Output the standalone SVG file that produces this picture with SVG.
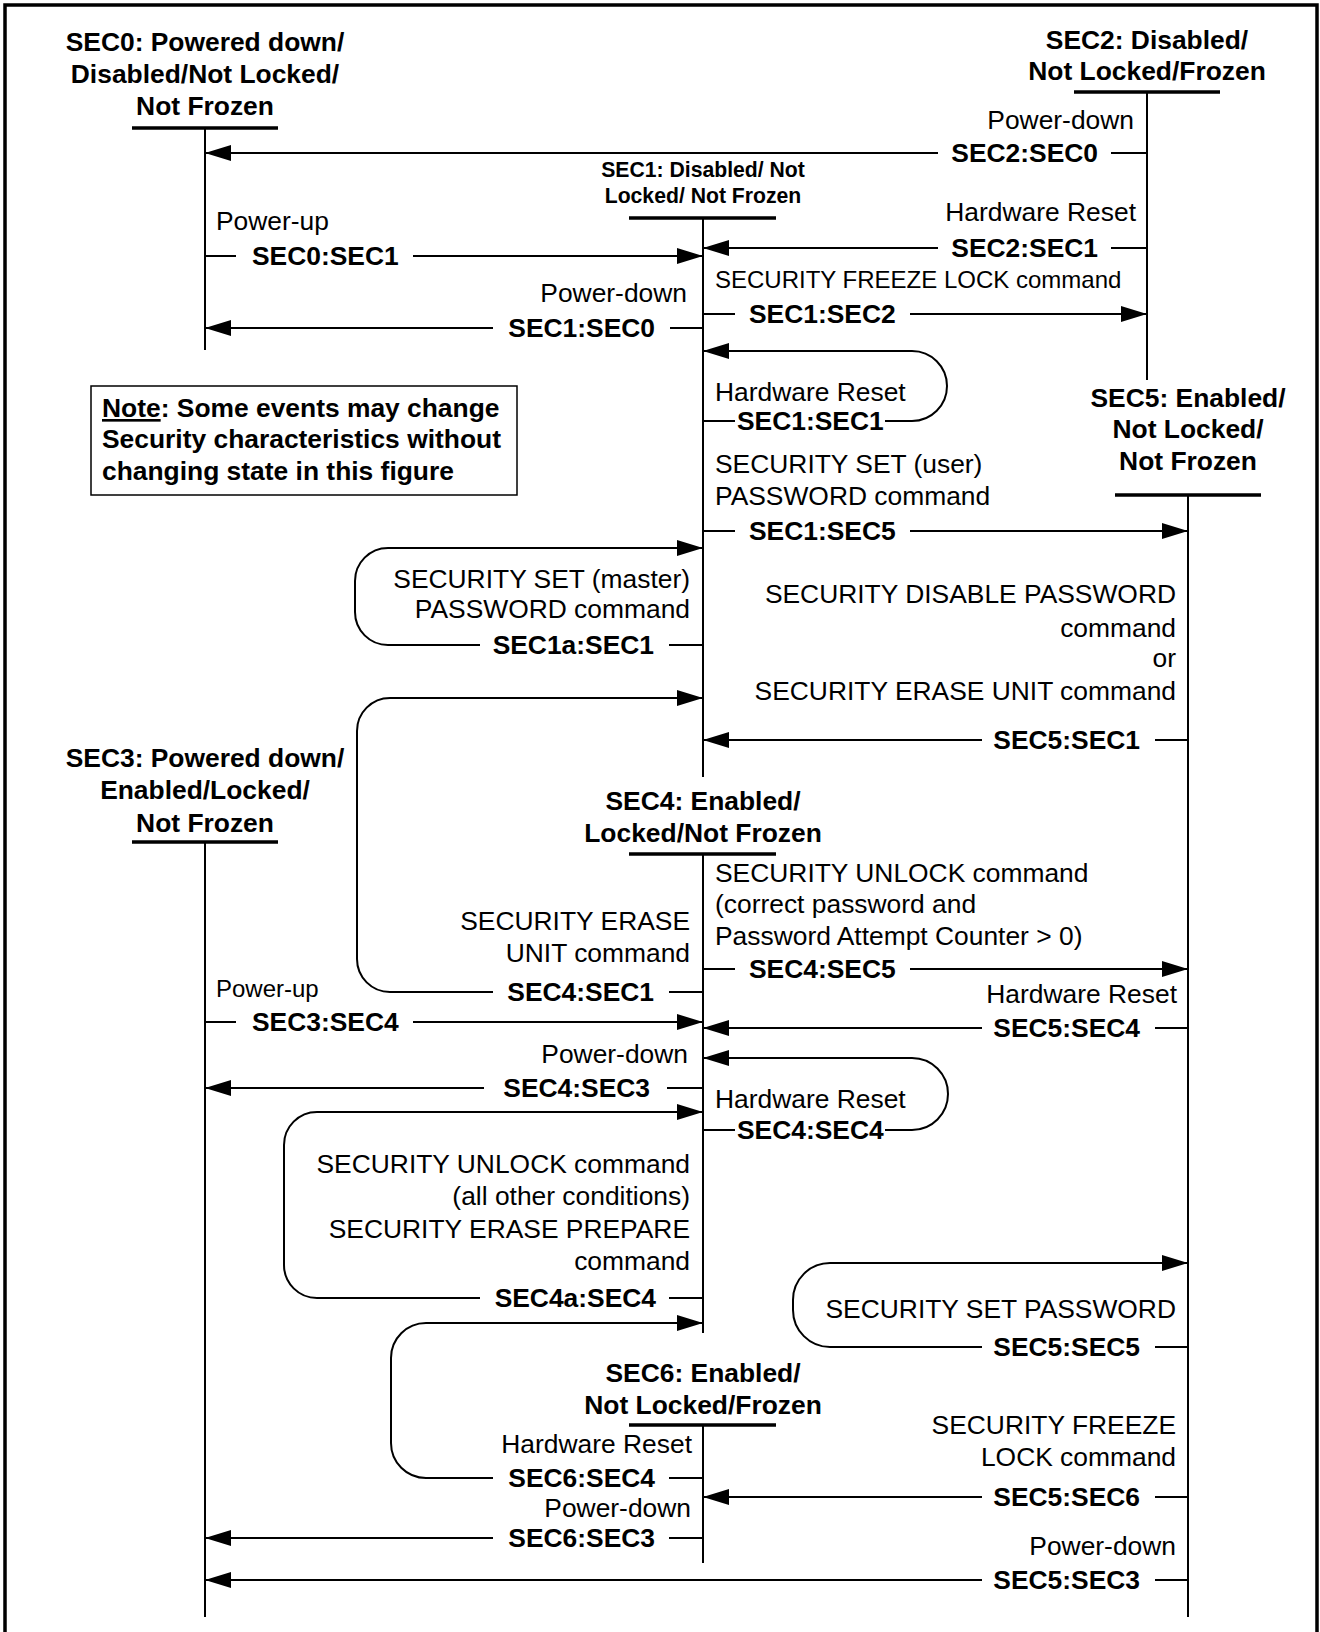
<svg xmlns="http://www.w3.org/2000/svg" width="1320" height="1632" viewBox="0 0 1320 1632">
<style>
text{font-family:"Liberation Sans",Arial,Helvetica,sans-serif;fill:#000}
.t{font-size:26.4px}
.ts{font-size:24px}
.b{font-size:26.4px;font-weight:bold}
.bs{font-size:21.2px;font-weight:bold}
.m{text-anchor:middle}
.e{text-anchor:end}
.life{stroke:#000;stroke-width:2;fill:none}
.bar{stroke:#000;stroke-width:3.5;fill:none}
.c{stroke:#000;stroke-width:2;fill:none}
.a{marker-end:url(#arr)}
</style>
<defs>
<marker id="arr" markerUnits="userSpaceOnUse" markerWidth="26" markerHeight="16" viewBox="0 0 26 16" refX="26" refY="8" orient="auto">
<path d="M0,0 L26,8 L0,16 Z" fill="#000"/>
</marker>
</defs>
<rect width="1320" height="1632" fill="#fff"/>
<path d="M5 1632 V5 H1317 V1632" fill="none" stroke="#000" stroke-width="3.5"/>

<g id="SEC0">
<text class="b m" x="205" y="51">SEC0: Powered down/</text>
<text class="b m" x="205" y="83">Disabled/Not Locked/</text>
<text class="b m" x="205" y="115">Not Frozen</text>
<line class="bar" x1="132" y1="128" x2="278" y2="128"/>
<line class="life" x1="205" y1="128" x2="205" y2="350"/>
</g>
<g id="SEC2">
<text class="b m" x="1147" y="49">SEC2: Disabled/</text>
<text class="b m" x="1147" y="80">Not Locked/Frozen</text>
<line class="bar" x1="1074" y1="92" x2="1220" y2="92"/>
<line class="life" x1="1147" y1="92" x2="1147" y2="380"/>
</g>
<g id="SEC1">
<text class="bs m" x="703" y="177">SEC1: Disabled/ Not</text>
<text class="bs m" x="703" y="203">Locked/ Not Frozen</text>
<line class="bar" x1="629" y1="218" x2="776" y2="218"/>
<line class="life" x1="703" y1="218" x2="703" y2="777"/>
</g>
<g id="SEC5">
<text class="b m" x="1188" y="407">SEC5: Enabled/</text>
<text class="b m" x="1188" y="438">Not Locked/</text>
<text class="b m" x="1188" y="470">Not Frozen</text>
<line class="bar" x1="1115" y1="495" x2="1261" y2="495"/>
<line class="life" x1="1188" y1="495" x2="1188" y2="1617"/>
</g>
<g id="SEC3">
<text class="b m" x="205" y="767">SEC3: Powered down/</text>
<text class="b m" x="205" y="799">Enabled/Locked/</text>
<text class="b m" x="205" y="832">Not Frozen</text>
<line class="bar" x1="132" y1="842" x2="278" y2="842"/>
<line class="life" x1="205" y1="842" x2="205" y2="1617"/>
</g>
<g id="SEC4">
<text class="b m" x="703" y="810">SEC4: Enabled/</text>
<text class="b m" x="703" y="842">Locked/Not Frozen</text>
<line class="bar" x1="629" y1="854" x2="776" y2="854"/>
<line class="life" x1="703" y1="854" x2="703" y2="1333"/>
</g>
<g id="SEC6">
<text class="b m" x="703" y="1382">SEC6: Enabled/</text>
<text class="b m" x="703" y="1414">Not Locked/Frozen</text>
<line class="bar" x1="629" y1="1425" x2="776" y2="1425"/>
<line class="life" x1="703" y1="1425" x2="703" y2="1563"/>
</g>
<g id="note">
<rect x="91" y="386" width="426" height="109" fill="none" stroke="#000" stroke-width="1.5"/>
<text class="b" x="102" y="417"><tspan text-decoration="underline">Note</tspan>: Some events may change</text>
<text class="b" x="102" y="448">Security characteristics without</text>
<text class="b" x="102" y="480">changing state in this figure</text>
</g>

<g id="connectors">
<g id="c-SEC2-SEC0">
<path class="c" d="M1147 153 H1111"/><path class="c a" d="M938 153 H205"/>
<text class="b e" x="1098" y="162">SEC2:SEC0</text>
<text class="t e" x="1134" y="129">Power-down</text>
</g>
<g id="c-SEC0-SEC1">
<path class="c" d="M205 256 H236"/><path class="c a" d="M413 256 H703"/>
<text class="b" x="252" y="265">SEC0:SEC1</text>
<text class="t" x="216" y="230">Power-up</text>
</g>
<g id="c-SEC2-SEC1">
<path class="c" d="M1147 248 H1111"/><path class="c a" d="M938 248 H703"/>
<text class="b e" x="1098" y="257">SEC2:SEC1</text>
<text class="t e" x="1136" y="221">Hardware Reset</text>
</g>
<g id="c-SEC1-SEC2">
<path class="c" d="M703 314 H735"/><path class="c a" d="M910 314 H1147"/>
<text class="b" x="749" y="323">SEC1:SEC2</text>
<text class="ts" x="715" y="288">SECURITY FREEZE LOCK command</text>
</g>
<g id="c-SEC1-SEC0">
<path class="c" d="M703 328 H670"/><path class="c a" d="M493 328 H205"/>
<text class="b e" x="655" y="337">SEC1:SEC0</text>
<text class="t e" x="687" y="302">Power-down</text>
</g>
<g id="c-SEC1-SEC1">
<path class="c" d="M703 421 H735"/><path class="c a" d="M885 421 H912 A35 35 0 0 0 912 351 H703"/>
<text class="b" x="737" y="430">SEC1:SEC1</text>
<text class="t" x="715" y="401">Hardware Reset</text>
</g>
<g id="c-SEC1-SEC5">
<path class="c" d="M703 531 H735"/><path class="c a" d="M910 531 H1188"/>
<text class="b" x="749" y="540">SEC1:SEC5</text>
<text class="t" x="715" y="473">SECURITY SET (user)</text>
<text class="t" x="715" y="505">PASSWORD command</text>
</g>
<g id="c-SEC1a-SEC1">
<path class="c" d="M703 645 H669"/><path class="c a" d="M480 645 H388 A33 33 0 0 1 355 612 V581 A33 33 0 0 1 388 548 H703"/>
<text class="b e" x="654" y="654">SEC1a:SEC1</text>
<text class="t e" x="690" y="588">SECURITY SET (master)</text>
<text class="t e" x="690" y="618">PASSWORD command</text>
</g>
<g id="c-SEC5-SEC1">
<path class="c" d="M1188 740 H1155"/><path class="c a" d="M982 740 H703"/>
<text class="b e" x="1140" y="749">SEC5:SEC1</text>
<text class="t e" x="1176" y="603">SECURITY DISABLE PASSWORD</text>
<text class="t e" x="1176" y="637">command</text>
<text class="t e" x="1176" y="667">or</text>
<text class="t e" x="1176" y="700">SECURITY ERASE UNIT command</text>
</g>
<g id="c-SEC4-SEC1">
<path class="c" d="M703 992 H669"/><path class="c a" d="M493 992 H390 A33 33 0 0 1 357 959 V731 A33 33 0 0 1 390 698 H703"/>
<text class="b e" x="654" y="1001">SEC4:SEC1</text>
<text class="t e" x="690" y="930">SECURITY ERASE</text>
<text class="t e" x="690" y="962">UNIT command</text>
</g>
<g id="c-SEC4-SEC5">
<path class="c" d="M703 969 H735"/><path class="c a" d="M910 969 H1188"/>
<text class="b" x="749" y="978">SEC4:SEC5</text>
<text class="t" x="715" y="882">SECURITY UNLOCK command</text>
<text class="t" x="715" y="913">(correct password and</text>
<text class="t" x="715" y="945">Password Attempt Counter &gt; 0)</text>
</g>
<g id="c-SEC3-SEC4">
<path class="c" d="M205 1022 H236"/><path class="c a" d="M413 1022 H703"/>
<text class="b" x="252" y="1031">SEC3:SEC4</text>
<text class="ts" x="216" y="997">Power-up</text>
</g>
<g id="c-SEC5-SEC4">
<path class="c" d="M1188 1028 H1155"/><path class="c a" d="M982 1028 H703"/>
<text class="b e" x="1140" y="1037">SEC5:SEC4</text>
<text class="t e" x="1177" y="1003">Hardware Reset</text>
</g>
<g id="c-SEC4-SEC3">
<path class="c" d="M703 1088 H667"/><path class="c a" d="M484 1088 H205"/>
<text class="b e" x="650" y="1097">SEC4:SEC3</text>
<text class="t e" x="688" y="1063">Power-down</text>
</g>
<g id="c-SEC4-SEC4">
<path class="c" d="M703 1130 H735"/><path class="c a" d="M885 1130 H912 A36 36 0 0 0 912 1058 H703"/>
<text class="b" x="737" y="1139">SEC4:SEC4</text>
<text class="t" x="715" y="1108">Hardware Reset</text>
</g>
<g id="c-SEC4a-SEC4">
<path class="c" d="M703 1298 H669"/><path class="c a" d="M480 1298 H317 A33 33 0 0 1 284 1265 V1145 A33 33 0 0 1 317 1112 H703"/>
<text class="b e" x="656" y="1307">SEC4a:SEC4</text>
<text class="t e" x="690" y="1173">SECURITY UNLOCK command</text>
<text class="t e" x="690" y="1205">(all other conditions)</text>
<text class="t e" x="690" y="1238">SECURITY ERASE PREPARE</text>
<text class="t e" x="690" y="1270">command</text>
</g>
<g id="c-SEC5-SEC5">
<path class="c" d="M1188 1347 H1155"/><path class="c a" d="M982 1347 H830 A37 37 0 0 1 793 1310 V1300 A37 37 0 0 1 830 1263 H1188"/>
<text class="b e" x="1140" y="1356">SEC5:SEC5</text>
<text class="t e" x="1176" y="1318">SECURITY SET PASSWORD</text>
</g>
<g id="c-SEC6-SEC4">
<path class="c" d="M703 1478 H669"/><path class="c a" d="M493 1478 H426 A35 35 0 0 1 391 1443 V1358 A35 35 0 0 1 426 1323 H703"/>
<text class="b e" x="655" y="1487">SEC6:SEC4</text>
<text class="t e" x="692" y="1453">Hardware Reset</text>
</g>
<g id="c-SEC5-SEC6">
<path class="c" d="M1188 1497 H1155"/><path class="c a" d="M982 1497 H703"/>
<text class="b e" x="1140" y="1506">SEC5:SEC6</text>
<text class="t e" x="1176" y="1434">SECURITY FREEZE</text>
<text class="t e" x="1176" y="1466">LOCK command</text>
</g>
<g id="c-SEC6-SEC3">
<path class="c" d="M703 1538 H669"/><path class="c a" d="M493 1538 H205"/>
<text class="b e" x="655" y="1547">SEC6:SEC3</text>
<text class="t e" x="691" y="1517">Power-down</text>
</g>
<g id="c-SEC5-SEC3">
<path class="c" d="M1188 1580 H1155"/><path class="c a" d="M982 1580 H205"/>
<text class="b e" x="1140" y="1589">SEC5:SEC3</text>
<text class="t e" x="1176" y="1555">Power-down</text>
</g>
</g>
</svg>
